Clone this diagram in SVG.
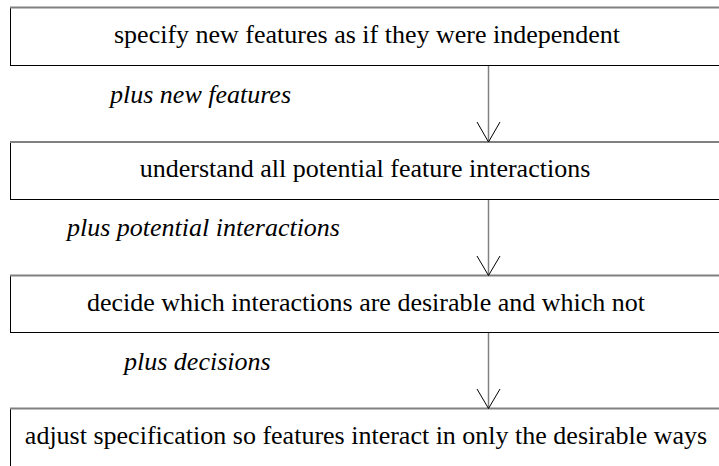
<svg xmlns="http://www.w3.org/2000/svg" width="719" height="466" viewBox="0 0 719 466">
  <defs>
    <style>
      .box { fill: #ffffff; stroke: #000000; stroke-width: 1; }
      .top { stroke: #808080; stroke-width: 2; }
      text { font-family: 'Liberation Serif', 'DejaVu Serif', serif; font-size: 26px; fill: #000000; }
      .step { text-anchor: middle; }
      .lbl { font-style: italic; }
      .shaft { stroke: #808080; stroke-width: 1.5; fill: none; }
      .head { stroke: #000000; stroke-width: 1; fill: none; }
    </style>
  </defs>
  <rect width="719" height="466" fill="#ffffff"/>

  <!-- process steps (boxes run past the right edge) -->
  <g id="step1">
    <rect class="box" x="10.5" y="7.5" width="720" height="58"/>
    <line class="top" x1="10" y1="7.5" x2="719" y2="7.5"/>
    <text class="step" font-family="Liberation Serif, serif" x="367" y="43">specify new features as if they were independent</text>
  </g>
  <g id="step2">
    <rect class="box" x="10.5" y="142" width="720" height="57.5"/>
    <line class="top" x1="10" y1="142" x2="719" y2="142"/>
    <text class="step" font-family="Liberation Serif, serif" x="365" y="177">understand all potential feature interactions</text>
  </g>
  <g id="step3">
    <rect class="box" x="10.5" y="275.5" width="720" height="57"/>
    <line class="top" x1="10" y1="275.5" x2="719" y2="275.5"/>
    <text class="step" font-family="Liberation Serif, serif" x="366" y="311">decide which interactions are desirable and which not</text>
  </g>
  <g id="step4">
    <rect class="box" x="10.5" y="408.5" width="720" height="80"/>
    <line class="top" x1="10" y1="408.5" x2="719" y2="408.5"/>
    <text class="step" font-family="Liberation Serif, serif" x="366" y="444">adjust specification so features interact in only the desirable ways</text>
  </g>

  <!-- connectors with open arrowheads -->
  <g id="connectors">
    <line class="shaft" x1="488.5" y1="66" x2="488.5" y2="141"/>
    <polyline class="head" points="477,122 488.5,142 500,122"/>
    <line class="shaft" x1="488.5" y1="200" x2="488.5" y2="275"/>
    <polyline class="head" points="477,256 488.5,275.5 500,256"/>
    <line class="shaft" x1="488.5" y1="333" x2="488.5" y2="408"/>
    <polyline class="head" points="477,389 488.5,408.5 500,389"/>
  </g>

  <!-- connector labels -->
  <g id="labels">
    <text class="lbl" font-family="Liberation Serif, serif" x="110" y="103">plus new features</text>
    <text class="lbl" font-family="Liberation Serif, serif" x="67" y="236">plus potential interactions</text>
    <text class="lbl" font-family="Liberation Serif, serif" x="124" y="370">plus decisions</text>
  </g>
</svg>
